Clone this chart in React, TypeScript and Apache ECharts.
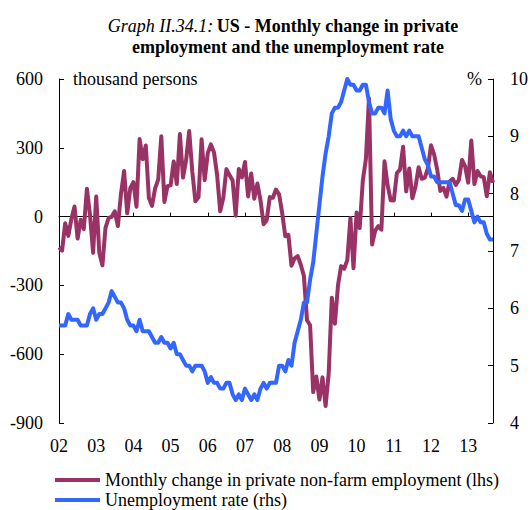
import React, { useEffect, useRef } from "react";
import * as echarts from "echarts";

const FONT = "Liberation Serif, Times New Roman, serif";

// Monthly categories: Jan 2002 - Sep 2013
const startYear = 2002;
const monthCount = 141;
const months: string[] = [];
for (let k = 0; k < monthCount; k++) {
  const y = startYear + Math.floor(k / 12);
  const m = (k % 12) + 1;
  months.push(`${y}-${m < 10 ? "0" + m : m}`);
}

// Monthly change in private non-farm employment, thousand persons (lhs)
const employmentChange: number[] = [
  // 2002
  -134, -148, -29, -84, -10, 44, -96, -14, -55, 121, 8, -158,
  // 2003
  88, -158, -212, -49, -6, -1, 23, -41, 100, 199, 15, 124,
  // 2004
  150, 43, 338, 250, 310, 81, 47, 123, 161, 350, 64, 133,
  // 2005
  136, 240, 142, 360, 170, 246, 373, 196, 67, 84, 337, 159,
  // 2006
  277, 315, 280, 182, 23, 82, 207, 181, 158, 4, 208, 171,
  // 2007
  238, 88, 188, 78, 144, 71, -33, -16, 85, 82, 118, 97,
  // 2008
  15, -86, -80, -214, -182, -172, -210, -259, -452, -474, -765, -697,
  // 2009
  -798, -701, -826, -684, -354, -467, -300, -216, -227, -190, -6, -225,
  // 2010
  18, -50, 156, 251, 516, -122, -61, -42, -57, 241, 137, 71,
  // 2011
  70, 190, 205, 305, 110, 210, 80, 130, 215, 165, 170, 210,
  // 2012
  311, 271, 205, 112, 125, 87, 153, 165, 138, 160, 247, 219,
  // 2013
  148, 332, 142, 199, 176, 172, 89, 193, 148,
];

// Unemployment rate, % (rhs)
const unemploymentRate: number[] = [
  // 2002
  5.7, 5.7, 5.7, 5.9, 5.8, 5.8, 5.8, 5.7, 5.7, 5.7, 5.9, 6.0,
  // 2003
  5.8, 5.9, 5.9, 6.0, 6.1, 6.3, 6.2, 6.1, 6.1, 6.0, 5.8, 5.7,
  // 2004
  5.7, 5.6, 5.8, 5.6, 5.6, 5.6, 5.5, 5.4, 5.4, 5.5, 5.4, 5.4,
  // 2005
  5.3, 5.4, 5.2, 5.2, 5.1, 5.0, 5.0, 4.9, 5.0, 5.0, 5.0, 4.9,
  // 2006
  4.7, 4.8, 4.7, 4.7, 4.6, 4.6, 4.7, 4.7, 4.5, 4.4, 4.5, 4.4,
  // 2007
  4.6, 4.5, 4.4, 4.5, 4.4, 4.6, 4.7, 4.6, 4.7, 4.7, 4.7, 5.0,
  // 2008
  5.0, 4.9, 5.1, 5.0, 5.4, 5.6, 5.8, 6.1, 6.1, 6.5, 6.8, 7.3,
  // 2009
  7.8, 8.3, 8.7, 9.0, 9.4, 9.5, 9.5, 9.6, 9.8, 10.0, 9.9, 9.9,
  // 2010
  9.8, 9.8, 9.9, 9.9, 9.6, 9.4, 9.4, 9.5, 9.5, 9.4, 9.8, 9.3,
  // 2011
  9.1, 9.0, 9.0, 9.1, 9.0, 9.1, 9.0, 9.0, 9.0, 8.8, 8.6, 8.5,
  // 2012
  8.3, 8.3, 8.2, 8.2, 8.2, 8.2, 8.2, 8.0, 7.8, 7.8, 7.7, 7.9,
  // 2013
  7.9, 7.7, 7.5, 7.6, 7.5, 7.5, 7.3, 7.2, 7.2,
];

const leftAxis = { min: -900, max: 600, interval: 300 };
const rightAxis = { min: 4, max: 10, interval: 1 };

const seriesNames = [
  "Monthly change in private non-farm employment (lhs)",
  "Unemployment rate (rhs)",
];

const titleItalic = "Graph II.34.1:";
const titleLine1 = "US - Monthly change in private";
const titleLine2 = "employment and the unemployment rate";
const leftUnit = "thousand persons";
const rightUnit = "%";

const PURPLE = "#993366";
const BLUE = "#3366ff";

export default function App() {
  const ref = useRef<HTMLDivElement>(null);

  useEffect(() => {
    if (!ref.current) return;
    const chart = echarts.init(ref.current, undefined, { renderer: "svg" });
    const isYearStart = (i: number) => i % 12 === 0;
    const legendBase = {
      orient: "horizontal",
      left: 55,
      padding: 0,
      itemWidth: 45,
      itemHeight: 4,
      icon: "rect",
      textStyle: { fontFamily: FONT, fontSize: 18, lineHeight: 16, color: "#000" },
    };
    chart.setOption({
      animation: false,
      textStyle: { fontFamily: FONT, color: "#000" },
      grid: { left: 59, right: 38, top: 79, bottom: 87, containLabel: false },
      legend: [
        { ...legendBase, data: [seriesNames[0]], top: 471 },
        { ...legendBase, data: [seriesNames[1]], top: 491 },
      ],
      xAxis: [
        {
          type: "category",
          data: months,
          boundaryGap: false,
          position: "bottom",
          axisLine: { show: false, onZero: false },
          axisTick: { show: false },
          splitLine: { show: false },
          axisLabel: {
            interval: (i: number) => isYearStart(i),
            formatter: (v: string) => v.slice(2, 4),
            margin: 14,
            fontSize: 18,
            color: "#000",
            fontFamily: FONT,
          },
        },
        {
          type: "category",
          data: months,
          boundaryGap: false,
          position: "bottom",
          axisLine: {
            show: true,
            onZero: true,
            onZeroAxisIndex: 0,
            lineStyle: { color: "#000", width: 1 },
          },
          axisTick: {
            show: true,
            inside: true,
            length: 4,
            interval: (i: number) => isYearStart(i),
            lineStyle: { color: "#000" },
          },
          axisLabel: { show: false },
          splitLine: { show: false },
        },
      ],
      yAxis: [
        {
          type: "value",
          position: "left",
          min: leftAxis.min,
          max: leftAxis.max,
          interval: leftAxis.interval,
          axisLine: { show: true, onZero: false, lineStyle: { color: "#000" } },
          axisTick: { show: true, inside: true, length: 5, lineStyle: { color: "#000" } },
          splitLine: { show: false },
          axisLabel: { margin: 16, fontSize: 18, color: "#000", fontFamily: FONT },
        },
        {
          type: "value",
          position: "right",
          min: rightAxis.min,
          max: rightAxis.max,
          interval: rightAxis.interval,
          axisLine: { show: true, onZero: false, lineStyle: { color: "#000" } },
          axisTick: { show: true, inside: true, length: 5, lineStyle: { color: "#000" } },
          splitLine: { show: false },
          axisLabel: { margin: 17, fontSize: 18, color: "#000", fontFamily: FONT },
        },
      ],
      series: [
        {
          name: seriesNames[0],
          type: "line",
          xAxisIndex: 0,
          yAxisIndex: 0,
          data: employmentChange,
          showSymbol: false,
          symbol: "none",
          lineStyle: { color: PURPLE, width: 4, join: "round" },
          itemStyle: { color: PURPLE },
          z: 2,
        },
        {
          name: seriesNames[1],
          type: "line",
          xAxisIndex: 0,
          yAxisIndex: 1,
          data: unemploymentRate,
          showSymbol: false,
          symbol: "none",
          lineStyle: { color: BLUE, width: 4, join: "round" },
          itemStyle: { color: BLUE },
          z: 3,
        },
      ],
      graphic: [
        {
          type: "text",
          x: 283,
          y: 26,
          style: {
            text: `{i|${titleItalic}} {b|${titleLine1}}`,
            align: "center",
            verticalAlign: "middle",
            rich: {
              i: { fontFamily: FONT, fontSize: 18, fontStyle: "italic", fill: "#000" },
              b: { fontFamily: FONT, fontSize: 18, fontWeight: "bold", fill: "#000" },
            },
          },
        },
        {
          type: "text",
          x: 288,
          y: 47,
          style: {
            text: titleLine2,
            align: "center",
            verticalAlign: "middle",
            fontFamily: FONT,
            fontSize: 18,
            fontWeight: "bold",
            fill: "#000",
          },
        },
        {
          type: "text",
          x: 73,
          y: 79,
          style: {
            text: leftUnit,
            align: "left",
            verticalAlign: "middle",
            fontFamily: FONT,
            fontSize: 18,
            fill: "#000",
          },
        },
        {
          type: "text",
          x: 482,
          y: 79,
          style: {
            text: rightUnit,
            align: "right",
            verticalAlign: "middle",
            fontFamily: FONT,
            fontSize: 18,
            fill: "#000",
          },
        },
      ],
    });
    return () => chart.dispose();
  }, []);

  return (
    <div style={{ position: "absolute", left: 0, top: 0, width: 531, height: 510 }}>
      <div ref={ref} style={{ width: 531, height: 510 }} />
    </div>
  );
}
